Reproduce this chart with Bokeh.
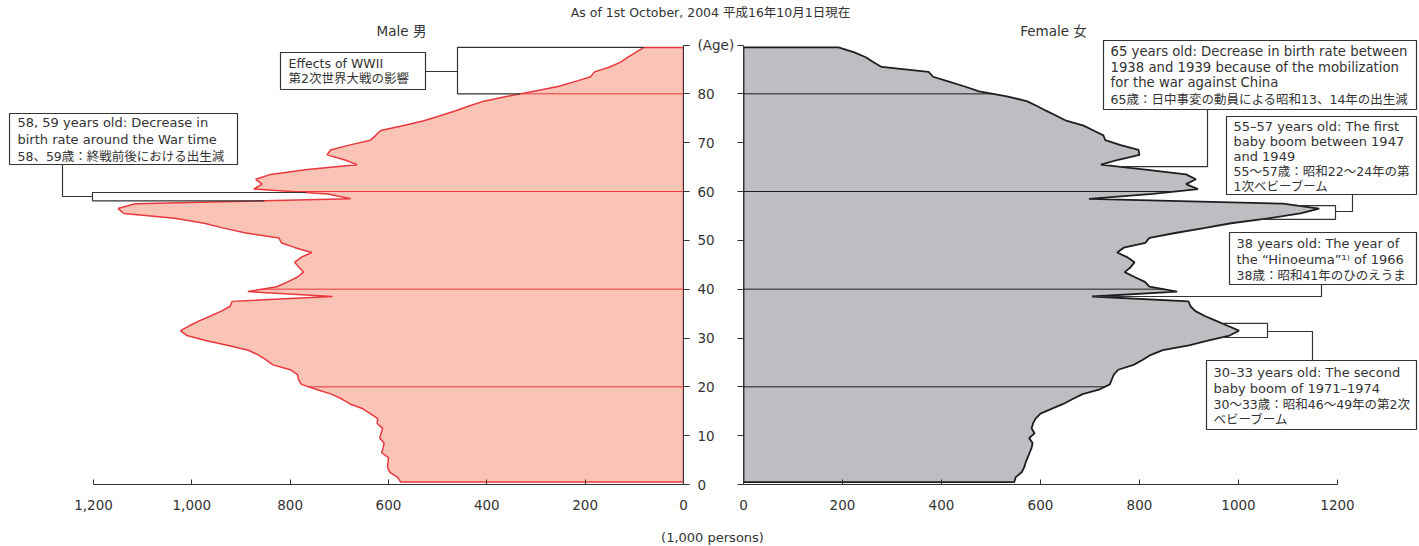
import numpy as np
from bokeh.plotting import figure
from bokeh.models import Range1d, FixedTicker, NumeralTickFormatter, CustomLabelingPolicy
from bokeh.layouts import column, row
from bokeh.embed import file_html
from bokeh.resources import INLINE
from bokeh.core.properties import value

# ---------------- data (population, 1,000 persons, by single year of age) ----------------
ages = list(range(90))
male = [
    575, 582, 597, 602, 601, 600, 614, 611, 609, 618,
    615, 612, 623, 622, 637, 652, 678, 695, 716, 748,
    777, 783, 785, 800, 835, 849, 864, 885, 928, 972,
    1010, 1023, 1005, 985, 962, 940, 922, 918, 714, 886,
    827, 805, 785, 773, 782, 791, 778, 756, 790, 818,
    823, 890, 935, 975, 1035, 1138, 1150, 1115, 677, 723,
    874, 857, 870, 840, 765, 664, 690, 725, 718, 680,
    637, 626, 616, 569, 528, 495, 465, 436, 406, 358,
    307, 255, 221, 189, 181, 150, 128, 113, 97, 81,
]
female = [
    547, 550, 562, 567, 570, 574, 578, 582, 584, 577,
    588, 582, 585, 590, 600, 622, 646, 665, 685, 720,
    740, 744, 748, 757, 788, 806, 822, 847, 900, 940,
    982, 1001, 978, 955, 932, 913, 903, 899, 704, 876,
    820, 811, 790, 770, 782, 790, 776, 755, 768, 812,
    820, 872, 930, 985, 1060, 1125, 1163, 1090, 698, 827,
    918, 894, 914, 894, 812, 722, 757, 800, 798, 762,
    731, 727, 707, 687, 652, 632, 612, 593, 572, 532,
    476, 447, 415, 383, 374, 279, 262, 247, 224, 192,
]
x_ticks = [0, 200, 400, 600, 800, 1000, 1200]
age_ticks = [0, 10, 20, 30, 40, 50, 60, 70, 80, 90]
age_tick_labels = {90: "(Age)"}
grid_ages = [20, 40, 60, 80]

title_text = "As of 1st October, 2004  平成16年10月1日現在"
male_label = "Male 男"
female_label = "Female 女"
unit_label = "(1,000 persons)"

FONT = "'DejaVu Sans', 'Noto Sans CJK JP'"
TXT = "#333333"
MALE_FILL, MALE_LINE = "#F9C4B6", "#E8383D"
FEM_FILL, FEM_LINE = "#BDBEC2", "#1E1E1E"
BOX_LINE = "#333333"
EN = "13px"
JP = "12.5px"

# ---------------- page geometry helpers (annotation placement only) ----------------
SX_L = 590 / 1200.0
SX_R = 594 / 1200.0
SY = 439.5 / 90.0
TOP = 20  # page y of the top of the panel frames


def lx(px):
    return (683 - px) / SX_L


def rx(px):
    return (px - 741) / SX_R


def ay(py):
    return (484 - py) / SY


yy = np.array(ages, dtype=float) + 0.5
male_a = np.array(male, dtype=float)
fem_a = np.array(female, dtype=float)


def style_axes(p, side_labels):
    p.xgrid.visible = False
    p.ygrid.visible = False
    p.outline_line_color = None
    p.background_fill_color = "white"
    p.border_fill_color = "white"
    xa = p.xaxis[0]
    xa.ticker = FixedTicker(ticks=x_ticks)
    xa.bounds = (0, 1200)
    xa.major_tick_in = 5
    xa.major_tick_out = 0
    xa.minor_tick_in = 0
    xa.minor_tick_out = 0
    xa.major_label_standoff = 15
    xa.major_label_text_font = FONT
    xa.major_label_text_font_size = "13.5px"
    xa.major_label_text_color = TXT
    xa.axis_line_color = "#333333"
    xa.major_tick_line_color = "#333333"
    ya = p.yaxis[0]
    ya.ticker = FixedTicker(ticks=age_ticks)
    ya.bounds = (0, 90)
    ya.major_tick_in = 0
    ya.major_tick_out = 6
    ya.minor_tick_in = 0
    ya.minor_tick_out = 0
    ya.axis_line_color = "#333333"
    ya.major_tick_line_color = "#333333"
    ya.major_label_text_font = FONT
    ya.major_label_text_font_size = "13.5px"
    ya.major_label_text_color = TXT
    if side_labels:
        ya.major_label_overrides = age_tick_labels
        ya.major_label_standoff = 8
    else:
        ya.major_label_overrides = {t: "" for t in age_ticks}
        ya.major_label_standoff = 0
        ya.major_label_policy = CustomLabelingPolicy(code="return new Set()")


def add_texts(p, xs, ys, texts, size):
    p.text(x=xs, y=ys, text=texts, text_font=value(FONT), text_font_size=size,
           text_color=TXT, text_baseline="middle", text_align="left")


def add_box(p, x0, x1, y0, y1):
    p.quad(left=[x0], right=[x1], bottom=[y0], top=[y1], fill_color="white",
           line_color=BOX_LINE, line_width=1.2)


# ---------------- left panel (male) ----------------
left = figure(frame_width=675, frame_height=484 - TOP, x_range=Range1d(lx(8), 0),
              y_range=Range1d(0, ay(TOP)), y_axis_location="right",
              output_backend="svg", toolbar_location=None,
              min_border=0, min_border_left=8, min_border_right=52, min_border_bottom=40)
style_axes(left, True)
left.xaxis[0].formatter = NumeralTickFormatter(format="0,0")

left.patch(x=[0] + list(male_a) + [0], y=[0.5] + list(yy) + [89.5],
           fill_color=MALE_FILL, line_color=MALE_LINE, line_width=1.5)
left.segment(x0=[0] * len(grid_ages), y0=grid_ages,
             x1=list(np.interp(grid_ages, yy, male_a)), y1=grid_ages,
             line_color=MALE_LINE, line_width=1)
left.text(x=[lx(401)], y=[ay(30)], text=[male_label], text_font=value(FONT),
          text_font_size="13.5px", text_color=TXT, text_align="center", text_baseline="middle")

# WWII bracket
br_x = lx(457)
left.multi_line(xs=[[float(np.interp(89.5, yy, male_a)), br_x, br_x, float(np.interp(80, yy, male_a))],
                    [lx(425), br_x]],
                ys=[[89.5, 89.5, 80, 80], [ay(71), ay(71)]],
                line_color=BOX_LINE, line_width=1.2)
add_box(left, lx(280), lx(425), ay(89), ay(52))
add_texts(left, [lx(288)], [ay(63)], ["Effects of WWII"], "12.5px")
add_texts(left, [lx(288)], [ay(78)], ["第2次世界大戦の影響"], JP)

# 58, 59 band
b_lo, b_hi, b_x = 58.1, 59.8, lx(92)
left.multi_line(xs=[[float(np.interp(b_hi, yy, male_a)), b_x, b_x, float(np.interp(b_lo, yy, male_a))],
                    [lx(62), lx(62), b_x]],
                ys=[[b_hi, b_hi, b_lo, b_lo], [ay(164), ay(196), ay(196)]],
                line_color=BOX_LINE, line_width=1.2)
add_box(left, lx(9), lx(237), ay(164), ay(113))
add_texts(left, [lx(17)] * 2, [ay(122), ay(139)],
          ["58, 59 years old: Decrease in", "birth rate around the War time"], EN)
add_texts(left, [lx(17)], [ay(156)], ["58、59歳：終戦前後における出生減"], JP)

# ---------------- right panel (female) ----------------
right = figure(frame_width=676, frame_height=484 - TOP, x_range=Range1d(0, rx(1417)),
               y_range=Range1d(0, ay(TOP)), y_axis_location="left",
               output_backend="svg", toolbar_location=None,
               min_border=0, min_border_left=6, min_border_bottom=40)
style_axes(right, False)

right.patch(x=[0] + list(fem_a) + [0], y=[0.5] + list(yy) + [89.5],
            fill_color=FEM_FILL, line_color=FEM_LINE, line_width=1.8)
right.segment(x0=[0] * len(grid_ages), y0=grid_ages,
              x1=list(np.interp(grid_ages, yy, fem_a)), y1=grid_ages,
              line_color=FEM_LINE, line_width=1)
right.text(x=[rx(1051)], y=[ay(30)], text=[female_label], text_font=value(FONT),
           text_font_size="13.5px", text_color=TXT, text_align="center", text_baseline="middle")

# 65 years old
c65 = 65.1
right.multi_line(xs=[[rx(1205), rx(1205), float(np.interp(c65, yy, fem_a))]],
                 ys=[[ay(109), c65, c65]], line_color=BOX_LINE, line_width=1.2)
add_box(right, rx(1101), rx(1414), ay(109), ay(40))
add_texts(right, [rx(1108)] * 3, [ay(51), ay(67), ay(82)],
          ["65 years old: Decrease in birth rate between",
           "1938 and 1939 because of the mobilization",
           "for the war against China"], "13.25px")
add_texts(right, [rx(1108)], [ay(99)], ["65歳：日中事変の動員による昭和13、14年の出生減"], JP)

# 55-57 band
d_lo, d_hi, d_x = 54.3, 57.1, rx(1333)
right.multi_line(xs=[[float(np.interp(d_hi, yy, fem_a)), d_x, d_x, float(np.interp(d_lo, yy, fem_a))],
                     [d_x, rx(1350), rx(1350)]],
                 ys=[[d_hi, d_hi, d_lo, d_lo], [ay(211), ay(211), ay(194)]],
                 line_color=BOX_LINE, line_width=1.2)
add_box(right, rx(1224), rx(1414), ay(194), ay(116))
add_texts(right, [rx(1231)] * 3, [ay(126), ay(141), ay(156)],
          ["55–57 years old: The first", "baby boom between 1947", "and 1949"], EN)
add_texts(right, [rx(1231)] * 2, [ay(171), ay(186)],
          ["55〜57歳：昭和22〜24年の第", "1次ベビーブーム"], JP)

# 38 years old
right.multi_line(xs=[[rx(1319), rx(1319), float(fem_a[38])]],
                 ys=[[ay(284), yy[38], yy[38]]], line_color=BOX_LINE, line_width=1.2)
add_box(right, rx(1227), rx(1414), ay(284), ay(232))
add_texts(right, [rx(1234)] * 2, [ay(243), ay(259)],
          ["38 years old: The year of", "the “Hinoeuma”¹⁾ of 1966"], EN)
add_texts(right, [rx(1234)], [ay(275)], ["38歳：昭和41年のひのえうま"], JP)

# 30-33 band
f_lo, f_hi, f_x = 30.1, 33.0, rx(1265)
right.multi_line(xs=[[float(np.interp(f_hi, yy, fem_a)), f_x, f_x, float(np.interp(f_lo, yy, fem_a))],
                     [f_x, rx(1310), rx(1310)]],
                 ys=[[f_hi, f_hi, f_lo, f_lo], [ay(331), ay(331), ay(360)]],
                 line_color=BOX_LINE, line_width=1.2)
add_box(right, rx(1204), rx(1414), ay(429), ay(360))
add_texts(right, [rx(1211)] * 2, [ay(372), ay(388)],
          ["30–33 years old: The second", "baby boom of 1971–1974"], EN)
add_texts(right, [rx(1211)] * 2, [ay(404), ay(419)],
          ["30〜33歳：昭和46〜49年の第2次", "ベビーブーム"], JP)

# ---------------- title strip and footer ----------------
top = figure(width=1417, height=TOP, x_range=Range1d(0, 1417), y_range=Range1d(TOP, 0),
             x_axis_type=None, y_axis_type=None, output_backend="svg",
             toolbar_location=None, min_border=0)
top.outline_line_color = None
top.xgrid.visible = False
top.ygrid.visible = False
top.text(x=[712], y=[12], text=[title_text], text_font=value(FONT), text_font_size="12.5px",
         text_color=TXT, text_align="center", text_baseline="middle")

bottom = figure(width=1417, height=22, x_range=Range1d(0, 1417), y_range=Range1d(546, 524),
                x_axis_type=None, y_axis_type=None, output_backend="svg",
                toolbar_location=None, min_border=0)
bottom.outline_line_color = None
bottom.xgrid.visible = False
bottom.ygrid.visible = False
bottom.text(x=[712], y=[537], text=[unit_label], text_font=value(FONT), text_font_size="13px",
            text_color=TXT, text_align="center", text_baseline="middle")

layout = column(top, row(left, right), bottom)
open("out.html", "w").write(file_html(layout, INLINE))
